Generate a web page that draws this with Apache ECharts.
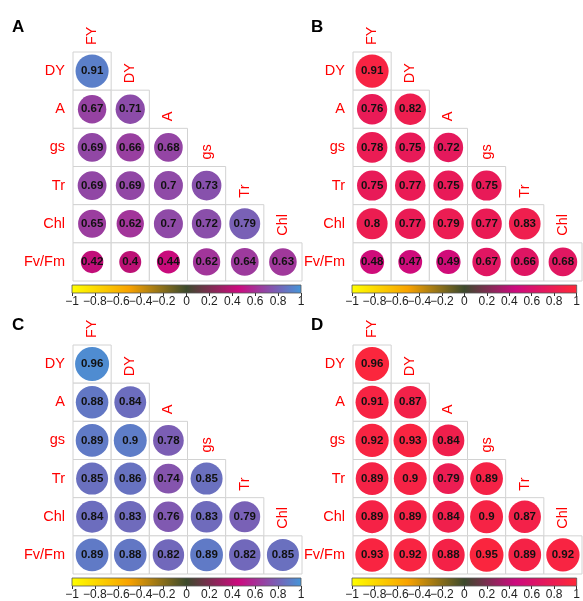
<!DOCTYPE html>
<html>
<head>
<meta charset="utf-8">
<script src="https://cdn.jsdelivr.net/npm/echarts@6/dist/echarts.min.js"></script>
<style>html,body{margin:0;padding:0;background:#fff}#c{width:583px;height:601px}</style>
</head>
<body>
<div id="c"></div>
<script>
// ---- data ----
const rowLabels = ['DY', 'A', 'gs', 'Tr', 'Chl', 'Fv/Fm'];
const colLabels = ['FY', 'DY', 'A', 'gs', 'Tr', 'Chl'];
const panelLetters = ['A', 'B', 'C', 'D'];

const corrA = [
  [0.91],
  [0.67, 0.71],
  [0.69, 0.66, 0.68],
  [0.69, 0.69, 0.70, 0.73],
  [0.65, 0.62, 0.70, 0.72, 0.79],
  [0.42, 0.40, 0.44, 0.62, 0.64, 0.63]
];
const corrB = [
  [0.91],
  [0.76, 0.82],
  [0.78, 0.75, 0.72],
  [0.75, 0.77, 0.75, 0.75],
  [0.80, 0.77, 0.79, 0.77, 0.83],
  [0.48, 0.47, 0.49, 0.67, 0.66, 0.68]
];
const corrC = [
  [0.96],
  [0.88, 0.84],
  [0.89, 0.90, 0.78],
  [0.85, 0.86, 0.74, 0.85],
  [0.84, 0.83, 0.76, 0.83, 0.79],
  [0.89, 0.88, 0.82, 0.89, 0.82, 0.85]
];
const corrD = [
  [0.96],
  [0.91, 0.87],
  [0.92, 0.93, 0.84],
  [0.89, 0.90, 0.79, 0.89],
  [0.89, 0.89, 0.84, 0.90, 0.87],
  [0.93, 0.92, 0.88, 0.95, 0.89, 0.92]
];
const colorbarTicks = [-1, -0.8, -0.6, -0.4, -0.2, 0, 0.2, 0.4, 0.6, 0.8, 1];

// colour scales
const stopPos = [-1, -0.5, 0, 0.45, 1];
const paletteBlue = ['#FFFF00', '#F8A200', '#3C4A2C', '#CC0A7E', '#4596D8'];
const paletteRed  = ['#FFFF00', '#F8A200', '#3C4A2C', '#CC0A7E', '#FF2838'];

// ---- layout ----
const panels = [
  { letter: panelLetters[0], data: corrA, palette: paletteBlue, left: 73,  top: 52,  tx: 12,  ty: 19 },
  { letter: panelLetters[1], data: corrB, palette: paletteRed,  left: 353, top: 52,  tx: 311, ty: 19 },
  { letter: panelLetters[2], data: corrC, palette: paletteBlue, left: 73,  top: 345, tx: 12,  ty: 317 },
  { letter: panelLetters[3], data: corrD, palette: paletteRed,  left: 353, top: 345, tx: 311, ty: 317 }
];
const SIZE = 229;
const FONT = '"Liberation Sans", Arial, Helvetica, sans-serif';

function hex2rgb(h) { return [1,3,5].map(i => parseInt(h.substr(i, 2), 16)); }
function colorFor(v, palette) {
  let k = 0;
  while (k < stopPos.length - 2 && v > stopPos[k + 1]) k++;
  const t = (v - stopPos[k]) / (stopPos[k + 1] - stopPos[k]);
  const a = hex2rgb(palette[k]), b = hex2rgb(palette[k + 1]);
  const c = a.map((x, i) => Math.round(x + (b[i] - x) * t));
  return 'rgb(' + c.join(',') + ')';
}
function fmtTick(v) {
  const r = Math.round(v * 10) / 10;
  if (r === 0) return '0';
  const s = String(Math.abs(r));
  return (r < 0 ? '\u2212' : '') + s;
}

const grid = [], xAxis = [], yAxis = [], series = [], title = [];
panels.forEach((p, k) => {
  const gi = k * 2, ci = k * 2 + 1;
  title.push({ text: p.letter, left: p.tx, top: p.ty, padding: 0,
    textStyle: { fontSize: 17, fontWeight: 'bold', color: '#000', fontFamily: FONT } });

  // matrix grid
  grid.push({ left: p.left, top: p.top, width: SIZE, height: SIZE });
  xAxis.push({ gridIndex: gi, type: 'category', data: colLabels, show: false });
  yAxis.push({ gridIndex: gi, type: 'category', data: rowLabels, inverse: true,
    axisLine: { show: false }, axisTick: { show: false }, splitLine: { show: false },
    axisLabel: { color: '#FF0000', fontSize: 14.5, margin: 8, fontFamily: FONT } });

  // colorbar grid
  grid.push({ left: p.left - 1, top: p.top + SIZE + 4, width: SIZE, height: 8 });
  xAxis.push({ gridIndex: ci, type: 'value', min: -1, max: 1, interval: 0.2,
    axisLine: { show: false }, splitLine: { show: false },
    axisTick: { show: true, length: 3, lineStyle: { color: '#333', width: 1 } },
    axisLabel: { fontSize: 12, color: '#222', margin: 3, fontFamily: FONT, hideOverlap: false,
      formatter: fmtTick, customValues: colorbarTicks } });
  yAxis.push({ gridIndex: ci, type: 'value', min: 0, max: 1, show: false });

  const cells = [];
  p.data.forEach((row, i) => row.forEach((v, j) => cells.push([j, i, v])));

  series.push({
    type: 'custom', xAxisIndex: gi, yAxisIndex: gi, data: cells,
    encode: { x: 0, y: 1 },
    renderItem: (params, api) => {
      const c = api.coord([api.value(0), api.value(1)]);
      const s = api.size([1, 1]);
      const v = api.value(2);
      const r = 0.455 * s[0] * Math.sqrt(Math.abs(v));
      return { type: 'group', children: [
        { type: 'rect', shape: { x: c[0] - s[0] / 2, y: c[1] - s[1] / 2, width: s[0], height: s[1] },
          style: { fill: '#fff', stroke: '#D2D2D2', lineWidth: 1 } },
        { type: 'circle', shape: { cx: c[0], cy: c[1], r: r }, style: { fill: colorFor(v, p.palette) } },
        { type: 'text', style: { x: c[0], y: c[1], text: String(v), align: 'center', verticalAlign: 'middle',
          fill: '#111', fontSize: 11.5, fontWeight: 'bold', fontFamily: FONT } }
      ] };
    }
  });

  // diagonal column labels
  const diag = colLabels.map((_, j) => [j, j]);
  series.push({
    type: 'custom', xAxisIndex: gi, yAxisIndex: gi, data: diag,
    encode: { x: 0, y: 1 },
    renderItem: (params, api) => {
      const c = api.coord([api.value(0), api.value(1)]);
      const s = api.size([1, 1]);
      return { type: 'text', x: c[0], y: c[1] - s[1] / 2 - 7, rotation: Math.PI / 2,
        style: { x: 0, y: 0, text: colLabels[params.dataIndex], align: 'left', verticalAlign: 'middle',
          fill: '#FF0000', fontSize: 14.5, fontFamily: FONT } };
    }
  });

  // colorbar
  series.push({
    type: 'custom', xAxisIndex: ci, yAxisIndex: ci, data: [[-1, 0, 1, 1]],
    renderItem: (params, api) => {
      const a = api.coord([api.value(0), api.value(1)]);
      const b = api.coord([api.value(2), api.value(3)]);
      const stops = stopPos.map((pos, i) => ({ offset: (pos + 1) / 2, color: p.palette[i] }));
      return { type: 'rect', shape: { x: a[0], y: b[1], width: b[0] - a[0], height: a[1] - b[1] },
        style: { fill: new echarts.graphic.LinearGradient(0, 0, 1, 0, stops), stroke: '#555', lineWidth: 0.8 } };
    }
  });
});

const chart = echarts.init(document.getElementById('c'), null, { renderer: 'canvas' });
chart.setOption({ animation: false, backgroundColor: '#fff', title, grid, xAxis, yAxis, series });
</script>
</body>
</html>
